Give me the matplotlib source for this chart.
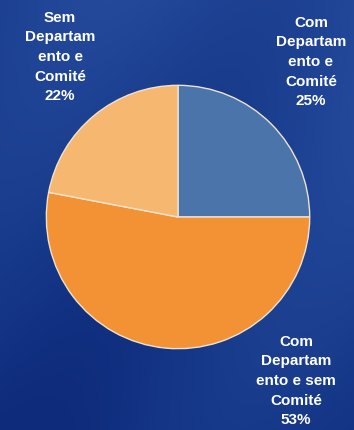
import matplotlib
matplotlib.use('Agg')
import matplotlib.pyplot as plt
import numpy as np

plt.rcParams['font.family'] = ['Liberation Sans', 'DejaVu Sans']

# データ
labels = ['Com\nDepartam\nento e\nComité', 'Com\nDepartam\nento e sem\nComité', 'Sem\nDepartam\nento e\nComité']
values = [25, 53, 22]
colors = ['#4B74AB', '#F39234', '#F6B870']

# ラベル位置 (figure fraction)
label_pos = [(311 / 354, 1 - 62 / 430), (296 / 354, 1 - 381 / 430), (60 / 354, 1 - 57 / 430)]

fig = plt.figure(figsize=(3.54, 4.30), dpi=100)

# 背景グラデーション
bg = fig.add_axes([0, 0, 1, 1])
yy, xx = np.mgrid[0:1:200j, 0:1:200j]
grad = 0.45 * (1 - yy) + 0.2 * xx + 0.15 * np.sin(6 * xx + 4 * yy)
bg.imshow(grad, cmap=matplotlib.colors.LinearSegmentedColormap.from_list(
    'bgblue', ['#0E2A7A', '#17398A', '#24499A']), aspect='auto', extent=[0, 1, 0, 1])
bg.axis('off')

# 円グラフ
cx, cy, r = 178, 217, 133
ax = fig.add_axes([(cx - r) / 354, (430 - cy - r) / 430, 2 * r / 354, 2 * r / 430])
ax.pie(values, colors=colors, startangle=90, counterclock=False, radius=1,
       wedgeprops=dict(edgecolor='#EFE3D0', linewidth=1.0))
ax.set_xlim(-1.01, 1.01)
ax.set_ylim(-1.01, 1.01)
ax.set_aspect('equal')
ax.axis('off')

for lab, v, (x, y) in zip(labels, values, label_pos):
    fig.text(x, y, f'{lab}\n{v}%', ha='center', va='center', color='white',
             fontsize=11, fontweight='bold', linespacing=1.52)

plt.savefig('out.png', dpi=100)
plt.close()
